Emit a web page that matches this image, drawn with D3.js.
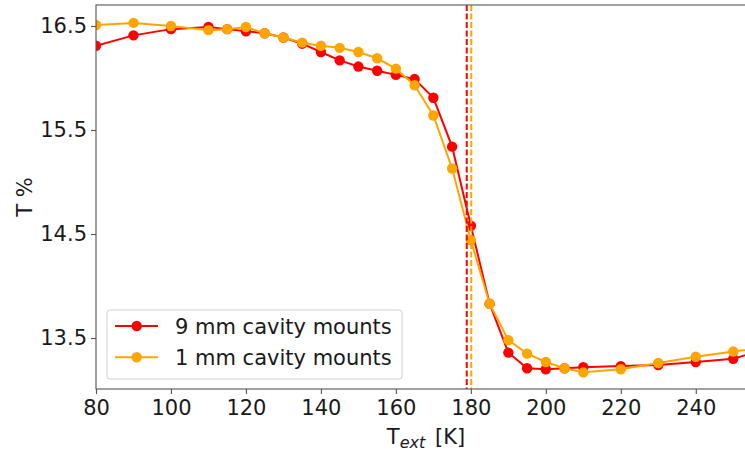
<!DOCTYPE html>
<html><head><meta charset="utf-8">
<script src="https://cdn.jsdelivr.net/npm/d3@7"></script>
<style>body{margin:0;background:#fff}svg{display:block}text{font-family:"DejaVu Sans",sans-serif;fill:#1a1a1a}</style>
</head><body>
<svg id="c" width="745" height="454"></svg>
<script>
const temps = [80,90,100,110,115,120,125,130,135,140,145,150,155,160,165,170,175,180,185,190,195,200,205,210,220,230,240,250,260];
const mounts9 = [16.31,16.41,16.47,16.49,16.47,16.45,16.43,16.39,16.33,16.25,16.17,16.11,16.07,16.03,15.99,15.81,15.34,14.58,13.83,13.36,13.21,13.20,13.21,13.22,13.23,13.24,13.27,13.30,13.41];
const mounts1 = [16.51,16.53,16.50,16.46,16.47,16.49,16.43,16.39,16.34,16.31,16.29,16.25,16.19,16.09,15.93,15.64,15.13,14.44,13.83,13.48,13.35,13.27,13.21,13.17,13.20,13.26,13.32,13.37,13.42];
const transitions = [178.9, 180.1];
const seriesNames = ["9 mm cavity mounts","1 mm cavity mounts"];
const colors = ["#ff0000","#ffa500"];
const xTicks = [80,100,120,140,160,180,200,220,240];
const yTicks = [13.5,14.5,15.5,16.5];

const L=96, R=752, T=5, B=389;
const svg = d3.select("#c");
const x = d3.scaleLinear().domain([80,255]).range([L,R]);
const y = d3.scaleLinear().domain([13.01,16.702]).range([B,T]);

svg.append("clipPath").attr("id","clip").append("rect").attr("x",L).attr("y",T).attr("width",R-L).attr("height",B-T);
const plot = svg.append("g").attr("clip-path","url(#clip)");

const series = [mounts9, mounts1];
const line = d3.line().x(d=>x(d[0])).y(d=>y(d[1]));
series.forEach((vals,i)=>{
  const pts = temps.map((t,j)=>[t,vals[j]]);
  plot.append("path").attr("d",line(pts)).attr("fill","none").attr("stroke",colors[i]).attr("stroke-width",2);
  plot.selectAll(null).data(pts).enter().append("circle")
    .attr("cx",d=>x(d[0])).attr("cy",d=>y(d[1])).attr("r",5.2).attr("fill",colors[i]);
});
transitions.forEach((t,i)=>{
  plot.append("line").attr("x1",x(t)).attr("x2",x(t)).attr("y1",T).attr("y2",B)
    .attr("stroke",colors[i]).attr("stroke-width",2).attr("stroke-dasharray","6,2.5");
});

// frame
svg.append("rect").attr("x",L).attr("y",T).attr("width",R-L).attr("height",B-T)
  .attr("fill","none").attr("stroke","#555").attr("stroke-width",1.1);

// axes
const xa = svg.append("g").attr("transform",`translate(0,${B})`)
  .call(d3.axisBottom(x).tickValues(xTicks).tickSize(5).tickPadding(6).tickFormat(d3.format("d")));
const ya = svg.append("g").attr("transform",`translate(${L},0)`)
  .call(d3.axisLeft(y).tickValues(yTicks).tickSize(5).tickPadding(4).tickFormat(d3.format(".1f")));
[xa,ya].forEach(a=>{
  a.select(".domain").remove();
  a.selectAll(".tick line").attr("stroke","#555").attr("stroke-width",1.1);
  a.selectAll(".tick text").attr("font-size",21).attr("font-family","DejaVu Sans").attr("fill","#1a1a1a");
});

// axis labels
svg.append("text").attr("transform","translate(32,197) rotate(-90)").attr("text-anchor","middle")
  .attr("font-size",21).text("T %");
const xl = svg.append("text").attr("x",426).attr("y",443.5).attr("text-anchor","middle").attr("font-size",21);
xl.append("tspan").text("T");
xl.append("tspan").attr("font-size",16).attr("font-style","italic").attr("dy",4).text("ext");
xl.append("tspan").attr("dy",-4).attr("dx",3).text(" [K]");

// legend
const lg = svg.append("g");
lg.append("rect").attr("x",107).attr("y",310).attr("width",295).attr("height",69).attr("rx",3)
  .attr("fill","#fff").attr("fill-opacity",0.8).attr("stroke","#d0d0d0").attr("stroke-width",1);
seriesNames.forEach((n,i)=>{
  const yy = 326 + i*31.3;
  lg.append("line").attr("x1",115).attr("x2",158).attr("y1",yy).attr("y2",yy).attr("stroke",colors[i]).attr("stroke-width",2);
  lg.append("circle").attr("cx",136.7).attr("cy",yy).attr("r",5.2).attr("fill",colors[i]);
  lg.append("text").attr("x",175).attr("y",yy).attr("dy","0.36em").attr("font-size",21).text(n);
});
</script>
</body></html>
